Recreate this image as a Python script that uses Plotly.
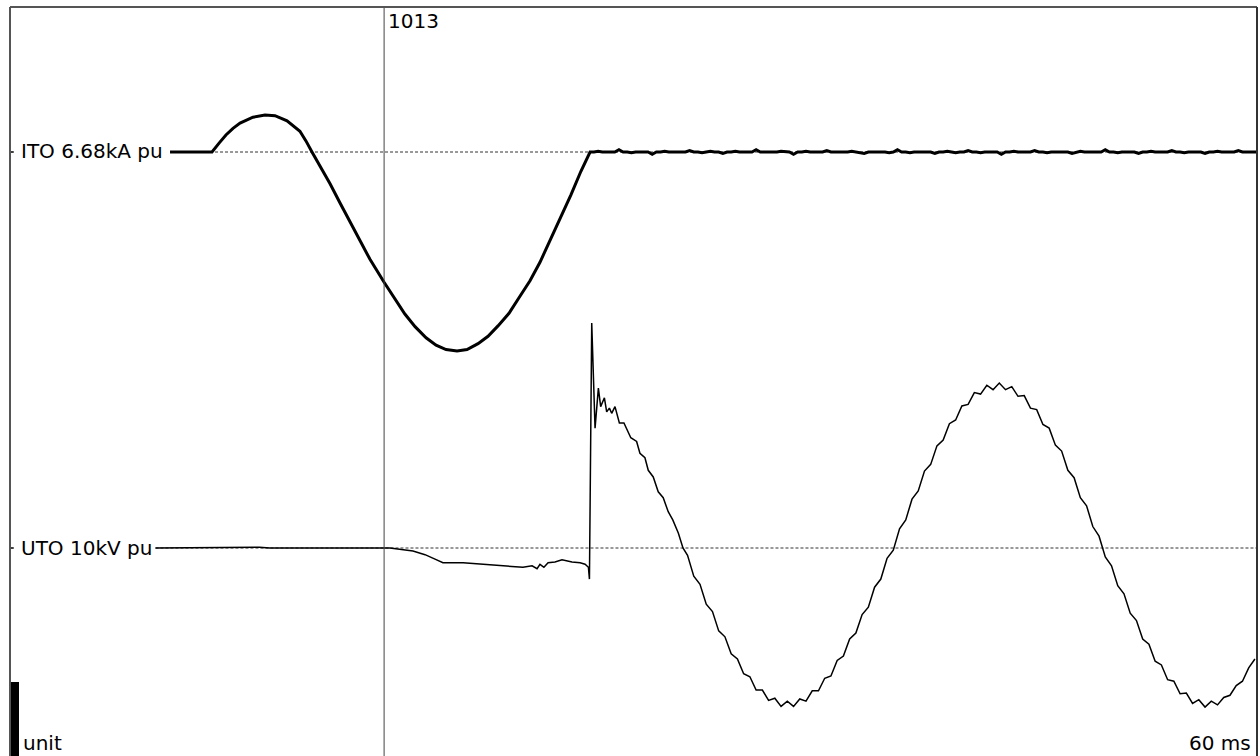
import numpy as np
import plotly.graph_objects as go

# ---- time base (ms) and display scale ----
T_END = 60.0
CURSOR_T = 18.0
CURSOR_LABEL = "1013"

# ---- ITO current trace, pu relative to its own baseline ----
ito_t = [7.70, 9.72, 10.06, 10.39, 10.73, 11.07, 11.69, 12.27, 12.75, 13.33,
         13.95, 14.24, 14.53, 14.92, 15.40, 15.88, 16.36, 16.84, 17.32, 18.00,
         18.52, 19.00, 19.49, 20.02, 20.50, 20.98, 21.51, 21.99, 22.52, 23.00,
         23.48, 24.01, 24.49, 25.02, 25.50, 25.98, 26.51, 26.99, 27.47, 27.91]
ito_v = [0.00, 0.00, 0.12, 0.23, 0.32, 0.39, 0.47, 0.50, 0.49, 0.42,
         0.28, 0.15, 0.00, -0.19, -0.43, -0.69, -0.95, -1.20, -1.45, -1.76,
         -1.99, -2.19, -2.36, -2.51, -2.61, -2.67, -2.69, -2.67, -2.59, -2.49,
         -2.35, -2.18, -1.97, -1.74, -1.49, -1.20, -0.89, -0.58, -0.26, 0.00]

# after interruption: residual noise on the current channel (0.2 ms samples)
ito_tail_start = 28.1
ito_tail_dt = 0.2
ito_tail_v = [0.00, 0.01, 0.00, 0.00, -0.01, 0.00, 0.03, 0.00, 0.00, -0.01,
              0.00, 0.00, 0.01, 0.00, -0.03, 0.00, 0.00, 0.01, 0.00, 0.00,
              -0.01, 0.00, 0.00, 0.02, 0.00, 0.00, -0.01, 0.00, 0.01, 0.00,
              0.00, -0.02, 0.00, 0.00, 0.01, 0.00, 0.00, -0.01, 0.00, 0.03,
              0.00, 0.00, 0.00, -0.01, 0.00, 0.01, 0.00, 0.00, -0.03, 0.00,
              0.00, 0.01, 0.00, 0.00, -0.01, 0.00, 0.02, 0.00, 0.00, 0.00,
              -0.01, 0.00, 0.01, 0.00, 0.00, -0.02, 0.00, 0.00, 0.01, 0.00,
              0.00, -0.01, 0.00, 0.03, 0.00, 0.00, -0.01, 0.00, 0.00, 0.01,
              0.00, 0.00, -0.02, 0.00, 0.00, 0.01, 0.00, -0.01, 0.00, 0.00,
              0.02, 0.00, 0.00, -0.01, 0.00, 0.00, 0.01, 0.00, -0.03, 0.00,
              0.00, 0.01, 0.00, 0.00, -0.01, 0.00, 0.02, 0.00, 0.00, -0.01,
              0.00, 0.00, 0.01, 0.00, 0.00, -0.02, 0.00, 0.01, 0.00, 0.00,
              -0.01, 0.00, 0.00, 0.03, 0.00, 0.00, -0.01, 0.00, 0.00, 0.01,
              0.00, -0.02, 0.00, 0.00, 0.01, 0.00, 0.00, -0.01, 0.00, 0.02,
              0.00, 0.00, -0.01, 0.00, 0.00, 0.01, 0.00, -0.02, 0.00, 0.00,
              0.01, 0.00, 0.00, -0.01, 0.00, 0.02, 0.00, 0.00, 0.00, -0.01]

# ---- UTO voltage trace, pu relative to its own baseline ----
uto_t = [7.00, 12.00, 12.50, 18.00, 18.28, 19.39, 19.97, 20.45, 20.83, 21.80,
         23.10, 24.68, 25.12, 25.36, 25.50, 25.69, 25.89, 26.22, 26.56, 27.04,
         27.43, 27.67, 27.83, 27.88, 27.99, 28.15, 28.31, 28.42, 28.60, 28.71,
         28.84, 28.95, 29.11, 29.32, 29.54, 29.87, 30.15, 30.31, 30.55, 30.71,
         30.95, 31.19, 31.43, 31.67, 31.89, 32.16, 32.38]
uto_v = [0.00, 0.01, 0.00, 0.00, 0.00, -0.04, -0.09, -0.15, -0.20, -0.20,
         -0.23, -0.26, -0.24, -0.28, -0.22, -0.26, -0.20, -0.19, -0.16, -0.19,
         -0.20, -0.22, -0.26, -0.42, 3.04, 1.62, 2.16, 1.91, 2.03, 1.84,
         1.89, 1.82, 1.91, 1.69, 1.69, 1.49, 1.44, 1.28, 1.22, 1.05,
         0.96, 0.76, 0.68, 0.49, 0.38, 0.20, 0.00]

# recovery voltage, 0.3 ms samples
uto_tail_start = 32.6
uto_tail_dt = 0.3
uto_tail_v = [-0.10, -0.38, -0.49, -0.76, -0.86, -1.12, -1.20, -1.43, -1.50, -1.70,
              -1.74, -1.92, -1.92, -2.06, -2.03, -2.14, -2.07, -2.14, -2.04, -2.07,
              -1.93, -1.93, -1.76, -1.73, -1.52, -1.46, -1.23, -1.15, -0.90, -0.80,
              -0.53, -0.42, -0.14, -0.03, 0.26, 0.38, 0.66, 0.77, 1.04, 1.13,
              1.38, 1.46, 1.68, 1.73, 1.92, 1.94, 2.10, 2.08, 2.20, 2.14,
              2.23, 2.14, 2.18, 2.05, 2.06, 1.89, 1.87, 1.67, 1.62, 1.39,
              1.31, 1.05, 0.95, 0.68, 0.57, 0.29, 0.16, -0.12, -0.24, -0.51,
              -0.62, -0.88, -0.98, -1.23, -1.30, -1.53, -1.58, -1.78, -1.80, -1.97,
              -1.96, -2.10, -2.05, -2.15, -2.07, -2.12, -2.02, -1.99, -1.86, -1.80,
              -1.62, -1.50]

# ---- channel labels ----
ITO_LABEL = "ITO 6.68kA pu"
UTO_LABEL = "UTO 10kV pu"

# ---- layout geometry ----
W, H = 1260, 756
M_L, M_R, M_T, M_B = 10, 3, 7, 0
PLOT_H = H - M_T - M_B
PX_PER_PU = 74.0
Y_MAX = PLOT_H / PX_PER_PU
ITO_BASE = (H - 152) / PX_PER_PU
UTO_BASE = (H - 548) / PX_PER_PU
ITO_LINE_START = 7.7
UTO_LINE_START = 7.0

FONT = "DejaVu Sans, Verdana, sans-serif"
FS = 20

ito_x = list(ito_t) + list(ito_tail_start + ito_tail_dt * np.arange(len(ito_tail_v)))
ito_y = [ITO_BASE + v for v in list(ito_v) + list(ito_tail_v)]
ito_x.append(T_END)
ito_y.append(ITO_BASE)

uto_x = list(uto_t) + list(uto_tail_start + uto_tail_dt * np.arange(len(uto_tail_v)))
uto_y = [UTO_BASE + v for v in list(uto_v) + list(uto_tail_v)]

fig = go.Figure()
fig.add_trace(go.Scatter(x=ito_x, y=ito_y, mode="lines",
                         line=dict(color="black", width=3),
                         hoverinfo="skip", showlegend=False))
fig.add_trace(go.Scatter(x=uto_x, y=uto_y, mode="lines",
                         line=dict(color="black", width=1.5),
                         hoverinfo="skip", showlegend=False))

shapes = []
# dashed zero lines for each channel
shapes.append(dict(type="line", xref="x", yref="y", x0=ITO_LINE_START, x1=T_END,
                   y0=ITO_BASE, y1=ITO_BASE, line=dict(color="#333", width=1, dash="3px,2px"),
                   layer="below"))
shapes.append(dict(type="line", xref="x", yref="y", x0=UTO_LINE_START, x1=T_END,
                   y0=UTO_BASE, y1=UTO_BASE, line=dict(color="#333", width=1, dash="3px,2px"),
                   layer="below"))
# small ticks at the left edge marking each baseline
for base in (ITO_BASE, UTO_BASE):
    shapes.append(dict(type="line", xref="paper", yref="y", x0=0, x1=0.003,
                       y0=base, y1=base, line=dict(color="black", width=1.5)))
# cursor
shapes.append(dict(type="line", xref="x", yref="paper", x0=CURSOR_T, x1=CURSOR_T,
                   y0=0, y1=1, line=dict(color="#444", width=1)))
# unit scale bar (1 pu)
shapes.append(dict(type="rect", xref="paper", yref="y", x0=0, x1=0.0072,
                   y0=0, y1=1.0, fillcolor="black", line=dict(width=0)))
# frame: left, top, right
shapes.append(dict(type="line", xref="paper", yref="paper", x0=0, x1=0, y0=0, y1=1,
                   line=dict(color="#555", width=2)))
shapes.append(dict(type="line", xref="paper", yref="paper", x0=0, x1=1, y0=1, y1=1,
                   line=dict(color="#555", width=2)))
shapes.append(dict(type="line", xref="paper", yref="paper", x0=1, x1=1, y0=0, y1=1,
                   line=dict(color="#333", width=2)))

annotations = [
    dict(x=0.008, y=ITO_BASE, xref="paper", yref="y", text=ITO_LABEL, showarrow=False,
         xanchor="left", yanchor="middle", yshift=1, font=dict(family=FONT, size=FS, color="black"),
         bgcolor="white", borderpad=0),
    dict(x=0.008, y=UTO_BASE, xref="paper", yref="y", text=UTO_LABEL, showarrow=False,
         xanchor="left", yanchor="middle", font=dict(family=FONT, size=FS, color="black"),
         bgcolor="white", borderpad=0),
    dict(x=CURSOR_T, y=1, xref="x", yref="paper", text=CURSOR_LABEL, showarrow=False,
         xanchor="left", yanchor="top", xshift=2, yshift=0,
         font=dict(family=FONT, size=FS, color="black")),
    dict(x=0.009, y=0, xref="paper", yref="paper", text="unit", showarrow=False,
         xanchor="left", yanchor="bottom", yshift=-1,
         font=dict(family=FONT, size=FS, color="black")),
    dict(x=0.997, y=0, xref="paper", yref="paper", text=f"{T_END:.0f} ms", showarrow=False,
         xanchor="right", yanchor="bottom", yshift=-1,
         font=dict(family=FONT, size=FS, color="black")),
]

fig.update_layout(
    width=W, height=H,
    margin=dict(l=M_L, r=M_R, t=M_T, b=M_B, pad=0),
    paper_bgcolor="white", plot_bgcolor="white",
    xaxis=dict(range=[0, T_END], visible=False, fixedrange=True),
    yaxis=dict(range=[0, Y_MAX], visible=False, fixedrange=True),
    shapes=shapes, annotations=annotations,
    showlegend=False,
)

fig.write_html("out.html", config={"displayModeBar": False})
